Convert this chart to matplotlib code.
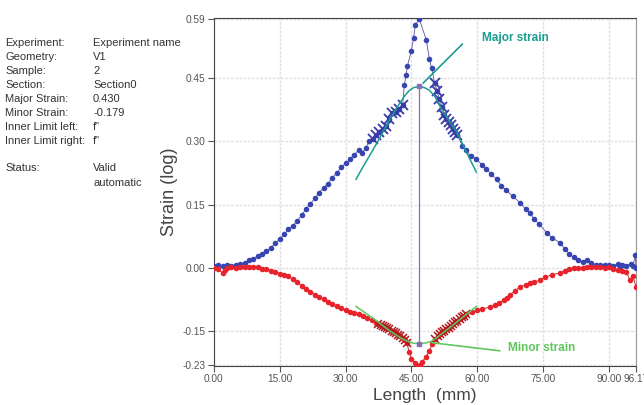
import numpy as np
import matplotlib.pyplot as plt

plt.rcParams['font.family'] = ['Liberation Sans', 'DejaVu Sans']

# --- data ---
major_x = [0, 1, 2, 3, 4, 5, 6, 7, 8, 9, 10, 11, 12, 13, 14, 15, 16, 17, 18, 19,
           20, 21, 22, 23, 24, 25, 26, 27, 28, 29, 30, 31, 32, 33, 33.8, 34.6, 35.4,
           36.2, 37, 37.7, 38.5, 39.3, 40, 40.7, 41.5, 42.2, 43, 43.4, 43.8, 44.1,
           45, 45.5, 45.9, 46.8, 48.4, 49.1, 49.6, 50.3, 50.9, 51.4, 52, 52.5, 53,
           53.5, 54, 54.5, 55, 55.5, 56.6, 57.5, 58.5, 59.8, 61, 62.1, 63.2, 64.4,
           65.5, 66.5, 68.1, 69.7, 71, 72, 73, 74, 75.8, 77, 78.8, 80, 81, 82, 83,
           84, 85, 86, 87, 88, 89, 90, 91, 92, 92.5, 93, 94, 95, 95.5, 96, 96.17]
major_y = [0.005, 0.006, 0.004, 0.007, 0.005, 0.008, 0.010, 0.012, 0.018, 0.022,
           0.028, 0.033, 0.040, 0.048, 0.060, 0.068, 0.080, 0.092, 0.100, 0.112,
           0.125, 0.140, 0.152, 0.165, 0.178, 0.190, 0.200, 0.214, 0.225, 0.238,
           0.248, 0.258, 0.268, 0.280, 0.272, 0.285, 0.300, 0.306, 0.314, 0.323,
           0.328, 0.337, 0.352, 0.366, 0.370, 0.376, 0.385, 0.433, 0.457, 0.478,
           0.515, 0.545, 0.575, 0.590, 0.540, 0.495, 0.474, 0.438, 0.418, 0.400,
           0.382, 0.362, 0.352, 0.345, 0.338, 0.330, 0.322, 0.314, 0.290, 0.280,
           0.265, 0.258, 0.245, 0.235, 0.222, 0.210, 0.195, 0.185, 0.170, 0.155,
           0.140, 0.130, 0.115, 0.105, 0.084, 0.072, 0.060, 0.045, 0.033, 0.025,
           0.018, 0.015, 0.020, 0.012, 0.007, 0.008, 0.006, 0.008, 0.005, 0.010,
           0.003, 0.008, 0.005, 0.010, 0.005, 0.030, 0.000]

minor_x = [0, 1, 2, 2.5, 3, 4, 5, 6, 7, 8, 9, 10, 11, 12, 13, 14, 15, 16, 17, 18,
           19, 20, 21, 22, 23, 24, 25, 26, 27, 28, 29, 30, 31, 32, 33, 34, 35, 36,
           37, 37.5, 38, 38.5, 39, 39.5, 40, 40.5, 41, 41.5, 42, 42.5, 43, 43.5, 44,
           44.5, 45, 45.8, 46.4, 47, 47.5, 48.3, 49.1, 49.8, 50.4, 51, 51.5, 52,
           52.5, 53, 53.5, 54, 54.5, 55, 55.5, 56, 56.5, 57, 57.5, 58.9, 60, 61,
           62.8, 64, 65, 66, 66.7, 67.5, 68.5, 69.7, 71, 72, 73, 74.3, 75.5, 77,
           78.8, 80, 81, 82, 83, 84, 85, 86, 87, 88, 89, 90, 91, 92, 93, 94, 94.8,
           95.5, 96.17]
minor_y = [0.000, -0.003, -0.012, -0.005, 0.000, 0.002, 0.001, 0.003, 0.002, 0.003,
           0.002, 0.002, -0.002, -0.003, -0.006, -0.010, -0.013, -0.016, -0.020,
           -0.027, -0.034, -0.042, -0.049, -0.056, -0.063, -0.069, -0.074, -0.080,
           -0.086, -0.090, -0.095, -0.099, -0.103, -0.107, -0.110, -0.114, -0.118,
           -0.124, -0.130, -0.132, -0.135, -0.137, -0.140, -0.142, -0.145, -0.149,
           -0.152, -0.155, -0.158, -0.161, -0.165, -0.170, -0.178, -0.200, -0.215,
           -0.225, -0.232, -0.230, -0.222, -0.210, -0.196, -0.180, -0.168, -0.162,
           -0.156, -0.152, -0.148, -0.145, -0.141, -0.137, -0.133, -0.129, -0.125,
           -0.121, -0.117, -0.113, -0.110, -0.105, -0.100, -0.097, -0.093, -0.088,
           -0.083, -0.076, -0.072, -0.063, -0.055, -0.045, -0.040, -0.036, -0.033,
           -0.029, -0.022, -0.016, -0.012, -0.006, -0.002, 0.000, 0.001, 0.000,
           0.002, 0.003, 0.003, 0.002, 0.000, 0.002, -0.002, -0.004, -0.006, -0.010,
           -0.029, -0.020, -0.045]

# fit windows (selected points shown as crosses)
major_windows = [(36.0, 43.0), (50.0, 55.6)]
minor_windows = [(37.4, 44.1), (50.3, 57.6)]

major_fit_x = [32.4, 34, 36, 38, 40, 42.2, 43.5, 44.5, 45.5, 46.8, 48, 49.1, 50.3,
               51.8, 53.5, 55.3, 57.5, 59.8]
major_fit_y = [0.210, 0.240, 0.275, 0.312, 0.350, 0.388, 0.408, 0.420, 0.427, 0.430,
               0.427, 0.421, 0.407, 0.378, 0.350, 0.323, 0.275, 0.227]
minor_fit_x = [32.4, 36, 40, 42.5, 44, 45.5, 46.8, 48, 49.5, 51, 54, 57, 59.8]
minor_fit_y = [-0.091, -0.117, -0.148, -0.165, -0.173, -0.178, -0.179, -0.178,
               -0.174, -0.163, -0.139, -0.114, -0.091]

peak_x = 46.8
major_strain = 0.430
minor_strain = -0.179

info_keys = ["Experiment:", "Geometry:", "Sample:", "Section:", "Major Strain:",
             "Minor Strain:", "Inner Limit left:", "Inner Limit right:"]
info_vals = ["Experiment name", "V1", "2", "Section0", "0.430", "-0.179", "f\"", "f\""]

x_ticks = [0, 15, 30, 45, 60, 75, 90, 96.17]
x_labels = ["0.00", "15.00", "30.00", "45.00", "60.00", "75.00", "90.00", "96.17"]
y_ticks = [-0.23, -0.15, 0.0, 0.15, 0.30, 0.45, 0.59]
y_labels = ["-0.23", "-0.15", "0.00", "0.15", "0.30", "0.45", "0.59"]

blue = "#3645b0"
red = "#e8232b"
teal = "#1a9e8f"
green = "#5ec85e"
purple = "#8a6bbf"

fig = plt.figure(figsize=(6.44, 4.05), dpi=100)
ax = fig.add_axes([0.332, 0.0963, 0.6556, 0.8593])

mx = np.array(major_x); my = np.array(major_y)
nx_ = np.array(minor_x); ny_ = np.array(minor_y)

ax.plot(mx, my, "-", color="#5a4fa8", lw=0.6, zorder=3)
ax.plot(mx, my, "o", color=blue, ms=4, mew=0, zorder=4)
ax.plot(nx_, ny_, "-", color="#a01818", lw=0.6, zorder=3)
ax.plot(nx_, ny_, "o", color=red, ms=4, mew=0, zorder=4)

for lo, hi in major_windows:
    m = (mx >= lo) & (mx <= hi)
    ax.plot(mx[m], my[m], "x", color="#3a3aa8", ms=7, mew=1.3, zorder=5)
for lo, hi in minor_windows:
    m = (nx_ >= lo) & (nx_ <= hi)
    ax.plot(nx_[m], ny_[m], "x", color="#b01820", ms=6, mew=1.1, zorder=5)

ax.plot(major_fit_x, major_fit_y, color=teal, lw=1.1, zorder=6)
ax.plot(minor_fit_x, minor_fit_y, color=green, lw=1.1, zorder=6)

ax.plot([peak_x, peak_x], [major_strain, minor_strain], color=purple, lw=0.9, zorder=6)
ax.plot([peak_x, peak_x], [major_strain, minor_strain], "s", color=purple, ms=3, zorder=7)

# annotations
ax.plot([47.7, 56.6], [0.438, 0.530], color=teal, lw=1.2, zorder=6)
ax.text(61.2, 0.545, "Major strain", color=teal, fontsize=8.5, fontweight="bold",
        va="center", ha="left")
ax.plot([49.8, 65.1], [-0.177, -0.196], color=green, lw=1.2, zorder=6)
ax.text(67.0, -0.190, "Minor strain", color=green, fontsize=8.5, fontweight="bold",
        va="center", ha="left")

ax.set_xlim(0, 96.17)
ax.set_ylim(-0.232, 0.592)
ax.set_xticks(x_ticks)
ax.set_xticklabels(x_labels)
ax.set_yticks(y_ticks)
ax.set_yticklabels(y_labels)
ax.tick_params(labelsize=7.3, colors="#555555", length=4, width=0.8, pad=2)
ax.grid(True, color="#e0e0e0", lw=1.0, ls=(0, (2, 1)))
ax.set_axisbelow(True)
for s in ["left", "bottom", "top"]:
    ax.spines[s].set_color("#444444")
ax.spines["right"].set_color("#999999")
ax.set_xlabel("Length  (mm)", fontsize=12.5, color="#444444", labelpad=3)
ax.set_ylabel("Strain (log)", fontsize=13, color="#444444", labelpad=3)

# info panel
for i, (k, v) in enumerate(zip(info_keys, info_vals)):
    y = 43 + i * 14
    fig.text(5 / 644, 1 - y / 405, k, fontsize=8, color="#333333", va="center")
    fig.text(93 / 644, 1 - y / 405, v, fontsize=8, color="#333333", va="center")
fig.text(5 / 644, 1 - 168 / 405, "Status:", fontsize=8, color="#333333", va="center")
fig.text(93 / 644, 1 - 168 / 405, "Valid", fontsize=8, color="#333333", va="center")
fig.text(93 / 644, 1 - 183 / 405, "automatic", fontsize=8, color="#333333", va="center")

fig.savefig("out.png", dpi=100)
